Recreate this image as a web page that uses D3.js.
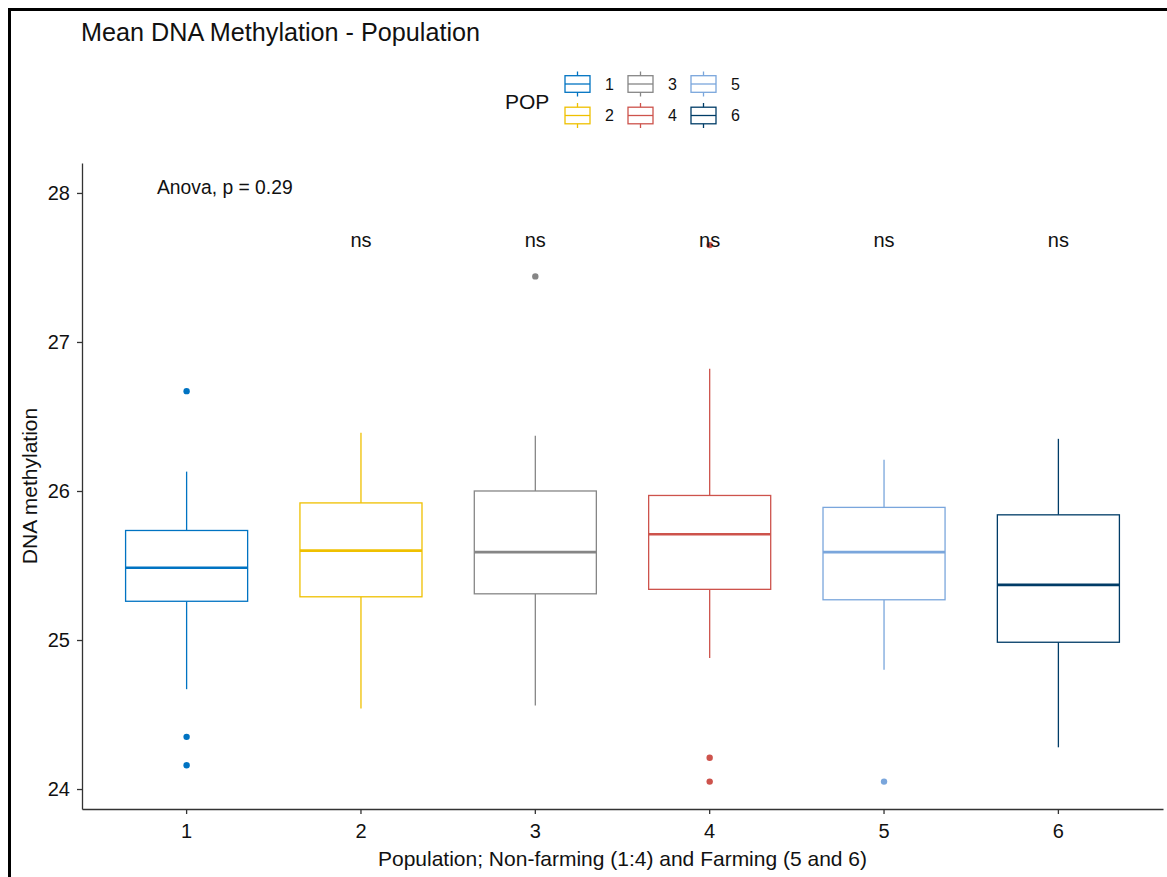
<!DOCTYPE html>
<html><head><meta charset="utf-8">
<script src="https://cdn.jsdelivr.net/npm/d3@7"></script>
<style>
html,body{margin:0;padding:0;background:#fff;}
svg{display:block;font-family:"Liberation Sans",Arial,sans-serif;}
</style></head>
<body>
<svg id="chart" width="1167" height="877"></svg>
<script>
const categories = ["1","2","3","4","5","6"];
const whiskerLow  = [24.67, 24.54, 24.56, 24.88, 24.80, 24.28];
const q1          = [25.26, 25.29, 25.31, 25.34, 25.27, 24.985];
const median      = [25.485, 25.60, 25.59, 25.71, 25.59, 25.37];
const q3          = [25.735, 25.92, 26.00, 25.97, 25.89, 25.84];
const whiskerHigh = [26.13, 26.39, 26.37, 26.82, 26.21, 26.35];
const outliers    = [[26.67, 24.35, 24.16], [], [27.44], [27.65, 24.21, 24.05], [24.05], []];
const colors      = ["#0073C2", "#EFC000", "#868686", "#CD534C", "#7AA6DC", "#003C67"];
const yTicks      = [24, 25, 26, 27, 28];
const sigLabels   = ["ns", "ns", "ns", "ns", "ns"];
const sigCats     = ["2", "3", "4", "5", "6"];
const anovaLabel  = "Anova, p = 0.29";
const titleText   = "Mean DNA Methylation - Population";
const xTitle      = "Population; Non-farming (1:4) and Farming (5 and 6)";
const yTitle      = "DNA methylation";
const legendTitle = "POP";

const svg = d3.select("#chart");
const P = {left: 82, right: 1163, top: 163, bottom: 809};

const x = d3.scaleBand().domain(categories).range([P.left, P.right]).paddingInner(0.3).paddingOuter(0.25);
const y = d3.scaleLinear().domain([23.866, 28.201]).range([P.bottom, P.top]);

// frame
svg.append("path").attr("d", "M9.5,877 L9.5,9.5 L1167,9.5").attr("fill","none").attr("stroke","#000").attr("stroke-width",3);

// title
svg.append("text").attr("x", 81).attr("y", 41).attr("font-size", 25.2).attr("fill", "#111").text(titleText);

// axes
const yAxis = svg.append("g").attr("transform", `translate(${P.left},0)`)
  .call(d3.axisLeft(y).tickValues(yTicks).tickSize(5).tickSizeOuter(0).tickPadding(7).tickFormat(d3.format("d")));
const xAxis = svg.append("g").attr("transform", `translate(0,${P.bottom})`)
  .call(d3.axisBottom(x).tickSize(5).tickSizeOuter(0).tickPadding(10));
[yAxis, xAxis].forEach(g => {
  g.select(".domain").attr("stroke", "#333").attr("stroke-width", 1.3);
  g.selectAll(".tick line").attr("stroke", "#333").attr("stroke-width", 1.3);
  g.selectAll(".tick text").attr("font-size", 20).attr("fill", "#111").attr("font-family", "Liberation Sans, Arial, sans-serif");
});

// axis titles
svg.append("text").attr("x", (P.left + P.right) / 2).attr("y", 866).attr("text-anchor", "middle")
  .attr("font-size", 21).attr("fill", "#111").text(xTitle);
svg.append("text").attr("transform", `translate(37,${(P.top + P.bottom) / 2}) rotate(-90)`).attr("text-anchor", "middle")
  .attr("font-size", 21).attr("fill", "#111").text(yTitle);

// boxes
const bw = x.bandwidth();
categories.forEach((c, i) => {
  const g = svg.append("g");
  const cx = x(c) + bw / 2;
  const col = colors[i];
  g.append("line").attr("x1", cx).attr("x2", cx).attr("y1", y(whiskerHigh[i])).attr("y2", y(q3[i]))
    .attr("stroke", col).attr("stroke-width", 1.3);
  g.append("line").attr("x1", cx).attr("x2", cx).attr("y1", y(q1[i])).attr("y2", y(whiskerLow[i]))
    .attr("stroke", col).attr("stroke-width", 1.3);
  g.append("rect").attr("x", x(c)).attr("width", bw).attr("y", y(q3[i])).attr("height", y(q1[i]) - y(q3[i]))
    .attr("fill", "#fff").attr("stroke", col).attr("stroke-width", 1.3);
  g.append("line").attr("x1", x(c)).attr("x2", x(c) + bw).attr("y1", y(median[i])).attr("y2", y(median[i]))
    .attr("stroke", col).attr("stroke-width", 2.6);
  outliers[i].forEach(v => {
    g.append("circle").attr("cx", cx).attr("cy", y(v)).attr("r", 3.2).attr("fill", col);
  });
});

// annotations
svg.append("text").attr("x", 157).attr("y", y(27.995)).attr("font-size", 19.3).attr("fill", "#111").text(anovaLabel);
sigCats.forEach((c, i) => {
  svg.append("text").attr("x", x(c) + bw / 2).attr("y", y(27.64)).attr("text-anchor", "middle")
    .attr("font-size", 20).attr("fill", "#111").text(sigLabels[i]);
});

// legend
const lg = svg.append("g");
lg.append("text").attr("x", 505).attr("y", 102).attr("dy", "0.35em").attr("font-size", 21).attr("fill", "#111").text(legendTitle);
categories.forEach((c, i) => {
  const colIdx = Math.floor(i / 2), row = i % 2;
  const kx = 565 + colIdx * 63, kc = 84 + row * 31.5;
  const col = colors[i];
  lg.append("line").attr("x1", kx + 12.5).attr("x2", kx + 12.5).attr("y1", kc - 12.5).attr("y2", kc + 12.5)
    .attr("stroke", col).attr("stroke-width", 1.3);
  lg.append("rect").attr("x", kx).attr("y", kc - 8.3).attr("width", 25).attr("height", 16.6)
    .attr("fill", "#fff").attr("stroke", col).attr("stroke-width", 1.3);
  lg.append("line").attr("x1", kx).attr("x2", kx + 25).attr("y1", kc).attr("y2", kc)
    .attr("stroke", col).attr("stroke-width", 1.3);
  lg.append("text").attr("x", kx + 40).attr("y", kc).attr("dy", "0.35em").attr("font-size", 16)
    .attr("fill", "#111").text(c);
});
</script>
</body></html>
